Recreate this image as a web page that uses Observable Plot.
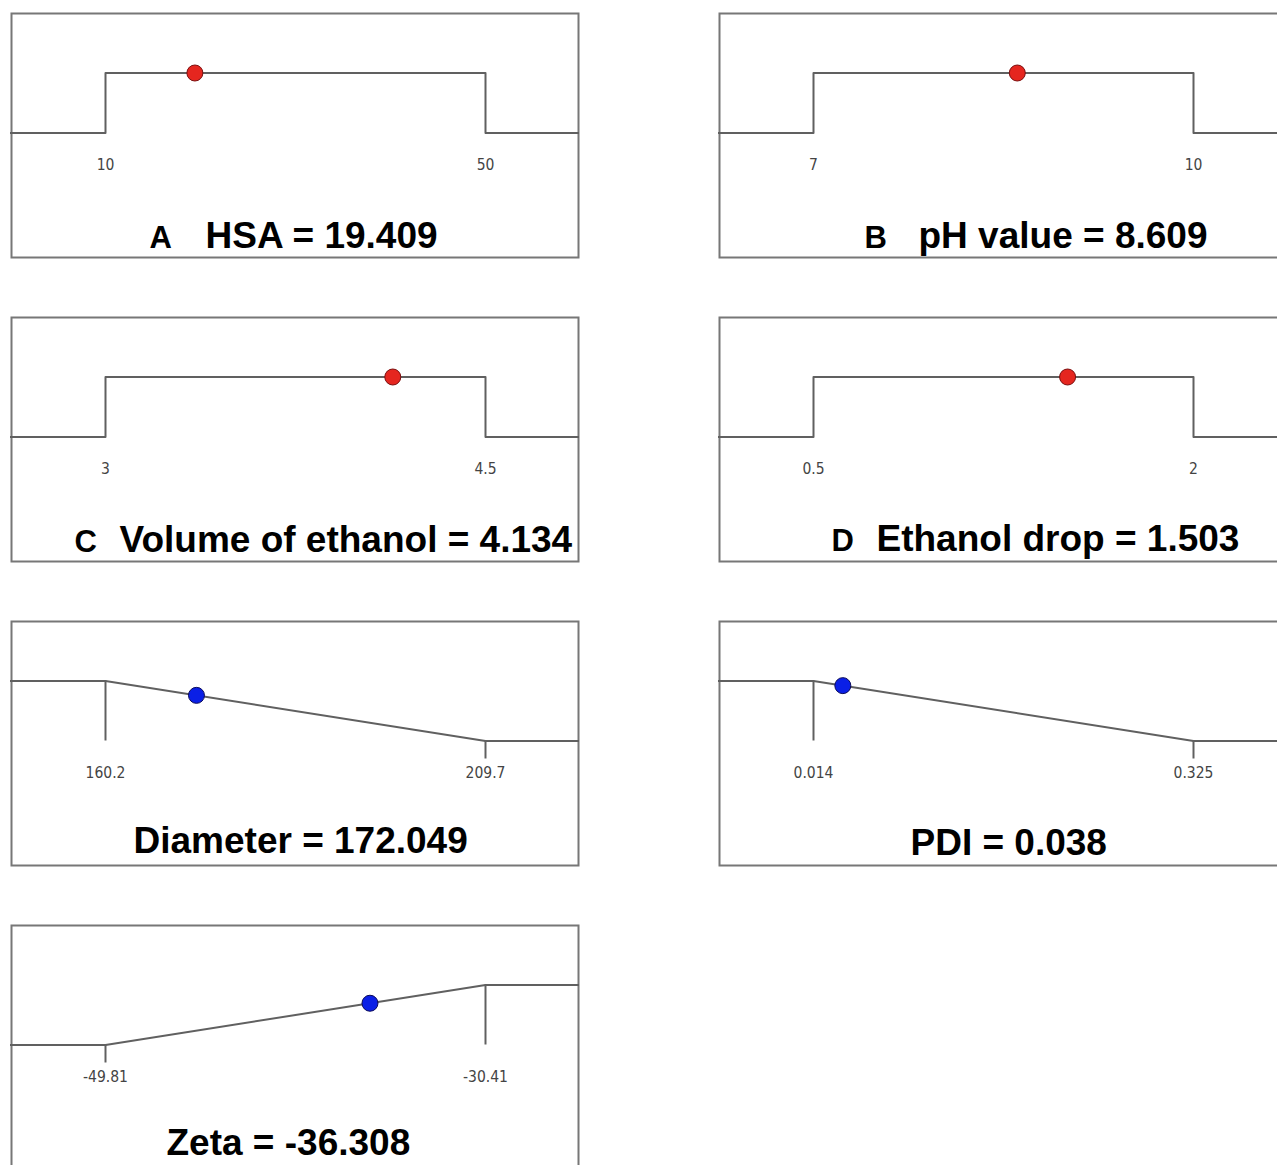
<!DOCTYPE html>
<html><head><meta charset="utf-8">
<script src="https://cdn.jsdelivr.net/npm/d3@7"></script>
<script src="https://cdn.jsdelivr.net/npm/@observablehq/plot@0.6"></script>
<style>
html,body{margin:0;padding:0;background:#fff;overflow:hidden;width:1277px;height:1165px}
#root{position:relative;width:1277px;height:1165px;overflow:hidden;background:#fff}
.panel{position:absolute;width:569px;height:246px}
.panel svg{display:block;overflow:visible}
</style></head><body><div id="root"></div>
<script>
// ---- data ----
const letters = ["A", "B", "C", "D", "", "", ""];
const names = ["HSA", "pH value", "Volume of ethanol", "Ethanol drop", "Diameter", "PDI", "Zeta"];
const lows = [10, 7, 3, 0.5, 160.2, 0.014, -49.81];
const highs = [50, 10, 4.5, 2, 209.7, 0.325, -30.41];
const values = [19.409, 8.609, 4.134, 1.503, 172.049, 0.038, -36.308];
const valueLabels = ["19.409", "8.609", "4.134", "1.503", "172.049", "0.038", "-36.308"];
const lowLabels = ["10", "7", "3", "0.5", "160.2", "0.014", "-49.81"];
const highLabels = ["50", "10", "4.5", "2", "209.7", "0.325", "-30.41"];
const goals = ["range", "range", "range", "range", "minimize", "minimize", "maximize"];

// ---- layout (positions / styles) ----
const panelLeft = [10, 718, 10, 718, 10, 718, 10];
const panelTop = [12, 12, 316, 316, 620, 620, 924];
const letterDx = [139, 146, 64, 113, 0, 0, 0];
const titleDx = [195, 200, 109, 158, 123, 192, 156];
const titleBaseline = [235, 235, 235, 234, 232, 234, 230];
const W = 569, H = 246;
const titleSize = 37, letterSize = 31;

function desirability(goal, lo, hi, v) {
  if (goal === "range") return (v >= lo && v <= hi) ? 1 : 0;
  if (goal === "minimize") return Math.max(0, Math.min(1, (hi - v) / (hi - lo)));
  return Math.max(0, Math.min(1, (v - lo) / (hi - lo)));
}

const root = document.getElementById("root");

names.forEach((name, i) => {
  const lo = lows[i], hi = highs[i], v = values[i], goal = goals[i];
  const span = hi - lo;
  let curve;
  if (goal === "range") curve = [[lo - span, 0], [lo, 0], [lo, 1], [hi, 1], [hi, 0], [hi + span, 0]];
  else if (goal === "minimize") curve = [[lo - span, 1], [lo, 1], [hi, 0], [hi + span, 0]];
  else curve = [[lo - span, 0], [lo, 0], [hi, 1], [hi + span, 1]];
  const d = desirability(goal, lo, hi, v);
  const isResponse = goal !== "range";
  const marks = [
    Plot.frame({stroke: "#777", strokeWidth: 2, inset: 1}),
    Plot.line(curve, {x: p => p[0], y: p => p[1], stroke: "#606060", strokeWidth: 2, clip: true})
  ];
  if (isResponse) {
    const oneEnd = goal === "minimize" ? lo : hi;
    const zeroEnd = goal === "minimize" ? hi : lo;
    marks.push(Plot.ruleX([oneEnd], {x: x => x, y1: 1, y2: 0, stroke: "#606060", strokeWidth: 2}));
    marks.push(Plot.ruleX([zeroEnd], {x: x => x, y1: 0, y2: 0, insetBottom: -18, stroke: "#606060", strokeWidth: 2}));
  }
  const tickVals = [lo, hi], tickLabs = [lowLabels[i], highLabels[i]];
  marks.push(Plot.text(tickVals, {
    x: x => x, text: (x, j) => tickLabs[j], frameAnchor: "bottom", dy: 157 - H,
    fontSize: 15.5, fill: "#444", fontFamily: "DejaVu Sans Condensed, sans-serif"
  }));
  marks.push(Plot.dot([{x: v, y: d}], {
    x: "x", y: "y", r: 8,
    fill: isResponse ? "#0a1fe6" : "#e5261f",
    stroke: isResponse ? "#0a0a5a" : "#7a1010", strokeWidth: 1
  }));
  if (letters[i]) {
    marks.push(Plot.text([letters[i]], {
      text: t => t, frameAnchor: "bottom-left", textAnchor: "start", lineAnchor: "middle",
      dx: letterDx[i], dy: titleBaseline[i] - 0.32 * letterSize - H, fontSize: letterSize, fontWeight: "bold",
      fill: "#000", fontFamily: "Liberation Sans, Arial, sans-serif"
    }));
  }
  marks.push(Plot.text([name + " = " + valueLabels[i]], {
    text: t => t, frameAnchor: "bottom-left", textAnchor: "start", lineAnchor: "middle",
    dx: titleDx[i], dy: titleBaseline[i] - 0.32 * titleSize - H, fontSize: titleSize, fontWeight: "bold",
    fill: "#000", fontFamily: "Liberation Sans, Arial, sans-serif"
  }));

  const chart = Plot.plot({
    width: W, height: H,
    marginTop: 0, marginRight: 0, marginBottom: 0, marginLeft: 0,
    x: {domain: [lo, hi], range: [95, 475], axis: null},
    y: {domain: [0, 1], range: [120.5, 60.5], axis: null},
    style: {background: "transparent", overflow: "visible"},
    marks
  });
  const div = document.createElement("div");
  div.className = "panel";
  div.style.left = panelLeft[i] + "px";
  div.style.top = panelTop[i] + "px";
  div.appendChild(chart);
  root.appendChild(div);
});
</script>
</body></html>
